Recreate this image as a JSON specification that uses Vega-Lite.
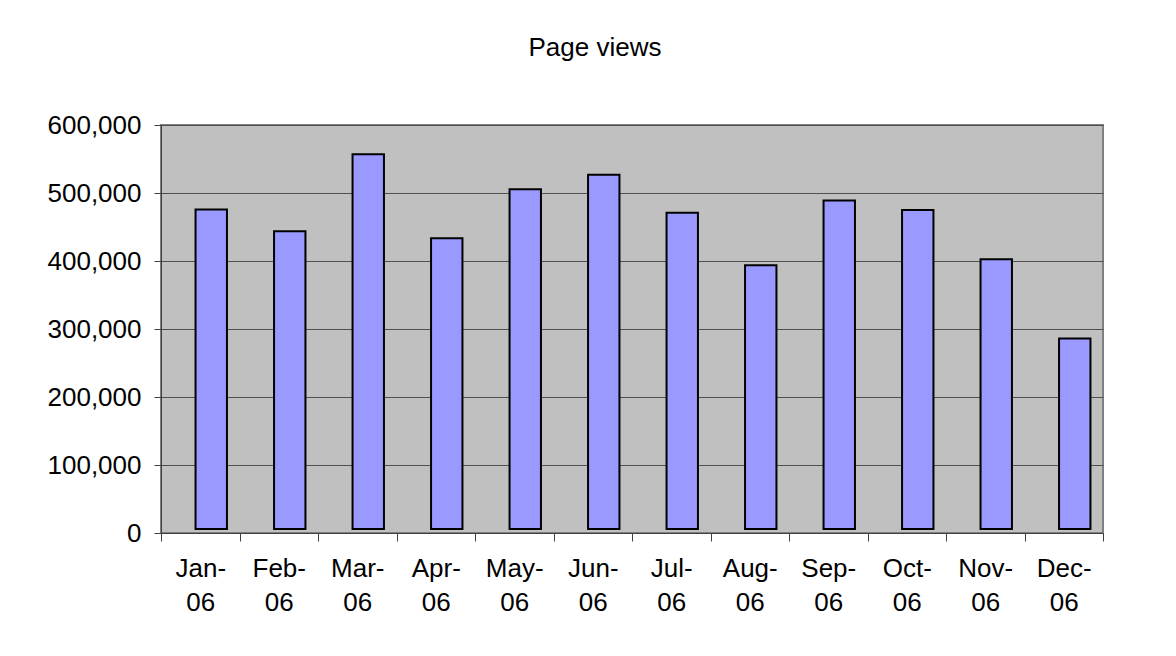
{
  "$schema": "https://vega.github.io/schema/vega-lite/v6.json",
  "width": 942,
  "height": 408,
  "autosize": {"type": "none"},
  "padding": {"left": 161, "top": 125, "right": 73, "bottom": 123},
  "background": "white",
  "title": {
    "text": "Page views",
    "font": "Liberation Sans",
    "fontSize": 26,
    "fontWeight": "normal",
    "color": "black",
    "anchor": "middle",
    "dx": -37,
    "offset": 51
  },
  "data": {
    "values": [
      {"month": "Jan-06", "views": 470000},
      {"month": "Feb-06", "views": 438000},
      {"month": "Mar-06", "views": 551000},
      {"month": "Apr-06", "views": 427500},
      {"month": "May-06", "views": 499600},
      {"month": "Jun-06", "views": 521000},
      {"month": "Jul-06", "views": 465000},
      {"month": "Aug-06", "views": 388000},
      {"month": "Sep-06", "views": 483000},
      {"month": "Oct-06", "views": 469000},
      {"month": "Nov-06", "views": 396600},
      {"month": "Dec-06", "views": 280000}
    ]
  },
  "mark": {
    "type": "bar",
    "fill": "#9999FF",
    "stroke": "black",
    "strokeWidth": 2,
    "width": {"band": 0.4},
    "xOffset": 11,
    "yOffset": -4,
    "y2Offset": -4
  },
  "encoding": {
    "x": {
      "field": "month",
      "type": "ordinal",
      "sort": null,
      "scale": {"paddingInner": 0, "paddingOuter": 0},
      "axis": {
        "title": null,
        "labelAngle": 0,
        "tickBand": "extent",
        "tickSize": 8,
        "tickColor": "#404040",
        "domainColor": "#404040",
        "grid": false,
        "labelExpr": "[slice(datum.label, 0, 4), slice(datum.label, 4)]",
        "labelLineHeight": 34,
        "labelPadding": 14,
        "labelFont": "Liberation Sans",
        "labelFontSize": 26,
        "labelColor": "black"
      }
    },
    "y": {
      "field": "views",
      "type": "quantitative",
      "scale": {"domain": [0, 600000], "nice": false},
      "axis": {
        "title": null,
        "values": [0, 100000, 200000, 300000, 400000, 500000, 600000],
        "format": ",.0f",
        "tickSize": 7,
        "tickColor": "#404040",
        "domainColor": "#404040",
        "gridColor": "#505050",
        "gridOpacity": 1,
        "labelPadding": 13,
        "labelFont": "Liberation Sans",
        "labelFontSize": 26,
        "labelColor": "black"
      }
    }
  },
  "config": {
    "view": {"fill": "#C0C0C0", "stroke": "#808080", "strokeWidth": 2}
  }
}
